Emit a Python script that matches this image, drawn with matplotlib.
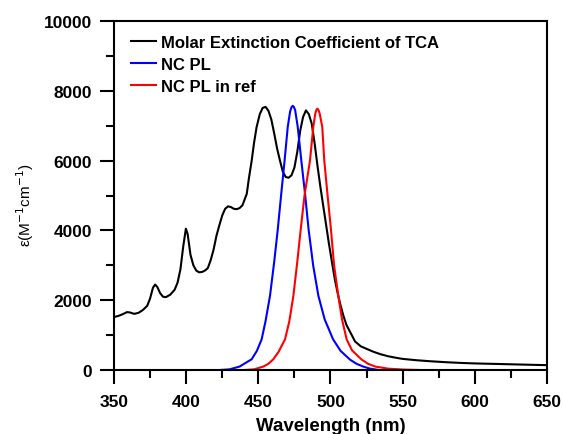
import matplotlib
matplotlib.use("Agg")
import matplotlib.pyplot as plt
from matplotlib.ticker import MultipleLocator

plt.rcParams['font.family'] = ['Liberation Sans', 'DejaVu Sans']

# absorption of TCA (molar extinction coefficient)
wl_tca = [350, 353, 356, 359, 361, 364, 367, 370, 373, 375, 377, 378.5, 380, 382,
          384, 386, 389, 392, 394, 396, 398, 399.8, 401, 403, 405, 407, 409, 411,
          413, 415, 417, 419, 421, 423, 425, 427, 429, 431, 433, 435, 437, 439,
          442, 443.5, 445.4, 447, 448.8, 451, 453, 455, 457, 459, 461, 463, 465,
          467, 469, 471, 473, 475, 477, 479, 481, 483, 485, 487, 489, 491, 493,
          495, 497, 499, 501, 503, 505, 507, 509, 511, 514, 517, 521, 526, 530,
          535, 540, 545, 550, 560, 570, 580, 590, 600, 610, 620, 630, 640, 650]
eps_tca = [1520, 1550, 1600, 1660, 1650, 1610, 1640, 1720, 1840, 2050, 2360, 2450,
           2380, 2200, 2100, 2090, 2160, 2300, 2500, 2880, 3550, 4050, 3900, 3300,
           3000, 2850, 2800, 2810, 2850, 2920, 3150, 3450, 3850, 4150, 4430, 4620,
           4690, 4670, 4620, 4610, 4640, 4720, 5050, 5500, 6000, 6500, 6960, 7330,
           7510, 7540, 7430, 7180, 6780, 6350, 6000, 5680, 5530, 5510, 5580, 5800,
           6250, 6850, 7250, 7440, 7330, 7060, 6500, 5850, 5250, 4700, 4150, 3600,
           3100, 2600, 2200, 1850, 1550, 1300, 1060, 820, 680, 590, 520, 450, 395,
           355, 320, 280, 250, 225, 205, 190, 180, 170, 160, 150, 140]

# NC photoluminescence
wl_pl = [423, 430, 437, 441, 445.4, 449, 452.3, 455, 458.1, 461, 463.4, 466, 468.2,
         470.4, 472, 473, 473.8, 474.6, 475.5, 477.3, 479.8, 482.5, 484.8, 488,
         491.6, 496, 501.8, 507, 513.5, 518, 522.7, 527, 533]
pl = [0, 20, 100, 200, 310, 550, 880, 1400, 2130, 3100, 4000, 5100, 6000, 6970,
      7400, 7530, 7570, 7540, 7450, 6970, 6000, 5000, 4040, 3000, 2130, 1450, 880,
      550, 300, 180, 100, 45, 5]

# NC PL from reference
wl_ref = [440, 447, 453.5, 457, 460.4, 464, 468.5, 471.5, 474.3, 477, 479.4, 482,
          485.8, 488.1, 489.5, 490.2, 490.9, 491.7, 492.5, 494.3, 495.7, 498, 500.3,
          502.5, 505.4, 508, 511.2, 515, 521.6, 526, 531, 540, 550, 563]
pl_ref = [0, 20, 100, 180, 310, 520, 880, 1400, 2130, 3100, 4040, 5000, 6000, 6970,
          7350, 7450, 7490, 7450, 7350, 6970, 6000, 5000, 4040, 3000, 2130, 1450,
          880, 560, 300, 180, 100, 40, 15, 0]

fig = plt.figure(figsize=(5.63, 4.35), dpi=100)
ax = fig.add_axes([0.2025, 0.147, 0.769, 0.8024])

ax.plot(wl_tca, eps_tca, color='black', lw=1.5, label='Molar Extinction Coefficient of TCA')
ax.plot(wl_pl, pl, color='#0000ff', lw=1.5, label='NC PL')
ax.plot(wl_ref, pl_ref, color='#ff0000', lw=1.5, label='NC PL in ref')

ax.set_xlim(350, 650)
ax.set_ylim(0, 10000)
ax.xaxis.set_major_locator(MultipleLocator(50))
ax.xaxis.set_minor_locator(MultipleLocator(25))
ax.yaxis.set_major_locator(MultipleLocator(2000))
ax.yaxis.set_minor_locator(MultipleLocator(1000))

for s in ax.spines.values():
    s.set_linewidth(1.5)
ax.tick_params(which='major', direction='out', length=10, width=1.5, labelsize=12.5, pad=6)
ax.tick_params(which='minor', direction='out', length=6, width=1.5)
ax.tick_params(axis='x', which='major', pad=7)
for lab in ax.get_xticklabels() + ax.get_yticklabels():
    lab.set_fontweight('bold')

ax.set_xlabel('Wavelength (nm)', fontsize=13.5, fontweight='bold', labelpad=6)
ax.set_ylabel(r'ε(M$^{-1}$cm$^{-1}$)', fontsize=11)
ax.yaxis.set_label_coords(-0.18, 0.476)

leg = ax.legend(loc='upper left', bbox_to_anchor=(0.017, 0.99), frameon=False,
                handlelength=1.45, handletextpad=0.3, labelspacing=0.42,
                borderaxespad=0.2, prop={'size': 12, 'weight': 'bold'})

fig.savefig('out.png', dpi=100)
